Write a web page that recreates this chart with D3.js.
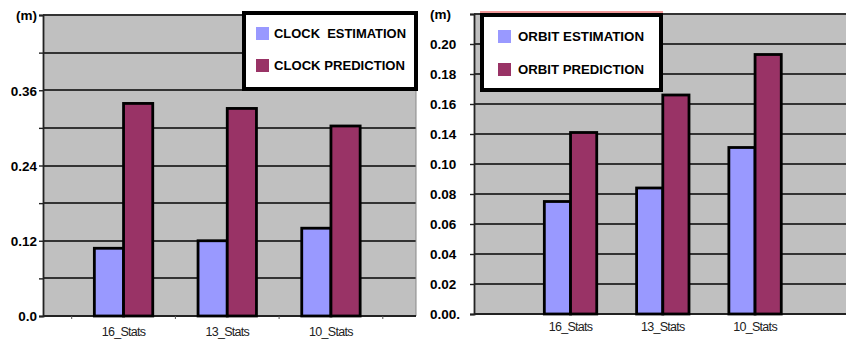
<!DOCTYPE html>
<html>
<head>
<meta charset="utf-8">
<script src="https://cdn.jsdelivr.net/npm/d3@7"></script>
<style>
  html, body { margin: 0; padding: 0; background: #fff; }
  svg { display: block; }
</style>
</head>
<body>
<svg id="chart" width="846" height="342"></svg>
<script>
// Station sets shared by both panels
const categories = ["16_Stats", "13_Stats", "10_Stats"];

// Clock panel (metres)
const clockSeries = ["CLOCK  ESTIMATION", "CLOCK PREDICTION"];
const clockEstimation = [0.108, 0.120, 0.140];
const clockPrediction = [0.339, 0.331, 0.303];
const clockTickValues = [0, 0.06, 0.12, 0.18, 0.24, 0.30, 0.36, 0.42, 0.48];
const clockTickLabels = ["0.0", "", "0.12", "", "0.24", "", "0.36", "", "(m)"];

// Orbit panel (metres)
const orbitSeries = ["ORBIT ESTIMATION", "ORBIT PREDICTION"];
const orbitEstimation = [0.075, 0.084, 0.111];
const orbitPrediction = [0.121, 0.146, 0.173];
const orbitTickValues = [0, 0.02, 0.04, 0.06, 0.08, 0.10, 0.12, 0.14, 0.16, 0.18, 0.20];
const orbitTickLabels = ["0.00.", "0.02", "0.04", "0.06", "0.08", "0.10", "0.14", "0.16", "0.18", "0.20", "(m)"];

const colors = ["#9999ff", "#993366"];
const svg = d3.select("#chart");

function panel(cfg) {
  const g = svg.append("g");
  const y = d3.scaleLinear().domain(cfg.yDomain).range([cfg.bottom, cfg.top]);
  const x0 = d3.scaleBand().domain(categories).range(cfg.bandRange);
  const bw = x0.bandwidth();
  const x1 = d3.scaleBand().domain([0, 1])
    .range([bw / 2 - cfg.pairWidth / 2, bw / 2 + cfg.pairWidth / 2]);

  // plot background
  g.append("rect")
    .attr("x", cfg.left).attr("y", cfg.top)
    .attr("width", cfg.right - cfg.left).attr("height", cfg.bottom - cfg.top)
    .attr("fill", "#c0c0c0");

  // gridlines
  g.selectAll("line.grid").data(cfg.tickValues).join("line")
    .attr("class", "grid")
    .attr("x1", cfg.left).attr("x2", cfg.right)
    .attr("y1", d => Math.round(y(d))).attr("y2", d => Math.round(y(d)))
    .attr("stroke", "#333").attr("stroke-width", 2);

  // right edge of plot
  if (cfg.rightEdge) {
    g.append("line")
      .attr("x1", cfg.right).attr("x2", cfg.right)
      .attr("y1", cfg.top).attr("y2", cfg.bottom)
      .attr("stroke", "#888").attr("stroke-width", 1);
  }

  // y axis
  const yAxis = d3.axisLeft(y)
    .tickValues(cfg.tickValues)
    .tickSize(4)
    .tickFormat((d, i) => cfg.tickLabels[i]);
  const ya = g.append("g").attr("transform", `translate(${cfg.left},0)`).call(yAxis);
  ya.select(".domain").attr("stroke", "#222").attr("stroke-width", 1.8);
  ya.selectAll(".tick line").attr("stroke", "#222").attr("stroke-width", 1.4);
  ya.selectAll(".tick text")
    .attr("font-family", "Liberation Sans, Arial, sans-serif")
    .attr("font-size", 13.5).attr("font-weight", "bold").attr("fill", "#000")
    .attr("text-anchor", cfg.labelAnchor)
    .attr("x", cfg.labelX - cfg.left)
    .attr("dy", "0.36em");

  // x axis
  const xAxis = d3.axisBottom(x0).tickSize(0).tickSizeOuter(0);
  const xa = g.append("g").attr("transform", `translate(0,${cfg.bottom})`).call(xAxis);
  xa.select(".domain").remove();
  g.append("line")
    .attr("x1", cfg.left).attr("x2", cfg.right)
    .attr("y1", cfg.bottom).attr("y2", cfg.bottom)
    .attr("stroke", "#222").attr("stroke-width", 2);
  if (cfg.catTicks) {
    const edges = categories.map(c => x0(c)).concat([x0(categories[2]) + bw]);
    g.selectAll("line.ctick").data(edges).join("line")
      .attr("class", "ctick")
      .attr("x1", d => d).attr("x2", d => d)
      .attr("y1", cfg.bottom).attr("y2", cfg.bottom + 3)
      .attr("stroke", "#555").attr("stroke-width", 1);
  }
  xa.selectAll(".tick text")
    .attr("font-family", "Liberation Sans, Arial, sans-serif")
    .attr("font-size", 12.5).attr("fill", "#222")
    .attr("letter-spacing", "-0.7px")
    .attr("y", cfg.xLabelY - cfg.bottom).attr("dy", 0);

  // bars
  const rows = categories.map((c, i) => ({ cat: c, vals: [cfg.est[i], cfg.pred[i]] }));
  const grp = g.selectAll("g.cat").data(rows).join("g")
    .attr("class", "cat")
    .attr("transform", d => `translate(${x0(d.cat)},0)`);
  grp.selectAll("rect").data(d => d.vals.map((v, k) => ({ v, k }))).join("rect")
    .attr("x", d => x1(d.k))
    .attr("width", x1.bandwidth())
    .attr("y", d => y(d.v))
    .attr("height", d => y(0) - y(d.v))
    .attr("fill", d => colors[d.k])
    .attr("stroke", "#000").attr("stroke-width", 2.8);

  // legend
  const L = cfg.legend;
  const lg = g.append("g");
  if (L.redTop) {
    lg.append("line")
      .attr("x1", L.x).attr("x2", L.x + L.w)
      .attr("y1", L.y - 1).attr("y2", L.y - 1)
      .attr("stroke", "#e03030").attr("stroke-width", 1);
  }
  lg.append("rect")
    .attr("x", L.x + 2).attr("y", L.y + 2)
    .attr("width", L.w - 4).attr("height", L.h - 4)
    .attr("fill", "#fff").attr("stroke", "#000").attr("stroke-width", 4);
  cfg.series.forEach((name, k) => {
    lg.append("rect")
      .attr("x", L.swX).attr("y", L.swY[k])
      .attr("width", 13).attr("height", 13)
      .attr("fill", colors[k]);
    lg.append("text")
      .attr("x", L.textX).attr("y", L.swY[k] + 11)
      .attr("font-family", "Liberation Sans, Arial, sans-serif")
      .attr("font-size", 12).attr("font-weight", "bold").attr("fill", "#000")
      .style("white-space", "pre")
      .attr("textLength", L.textW[k]).attr("lengthAdjust", "spacingAndGlyphs")
      .text(name);
  });
}

panel({
  left: 43, right: 416, top: 15, bottom: 316,
  yDomain: [0, 0.48],
  tickValues: clockTickValues, tickLabels: clockTickLabels,
  labelAnchor: "end", labelX: 37,
  bandRange: [71.7, 382.8], pairWidth: 58.4,
  catTicks: true, rightEdge: true,
  xLabelY: 336,
  est: clockEstimation, pred: clockPrediction,
  series: clockSeries,
  legend: { x: 242, y: 11, w: 176, h: 80, swX: 256, swY: [27, 59], textX: 274, textW: [132, 131] }
});

panel({
  left: 474, right: 846, top: 14, bottom: 314,
  yDomain: [0, 0.20],
  tickValues: orbitTickValues, tickLabels: orbitTickLabels,
  labelAnchor: "start", labelX: 430,
  bandRange: [524.4, 801.2], pairWidth: 52.4,
  catTicks: false, rightEdge: false,
  xLabelY: 331,
  est: orbitEstimation, pred: orbitPrediction,
  series: orbitSeries,
  legend: { x: 480, y: 13, w: 183, h: 79, swX: 498, swY: [30, 63], textX: 518, textW: [126, 126], redTop: true }
});
</script>
</body>
</html>
